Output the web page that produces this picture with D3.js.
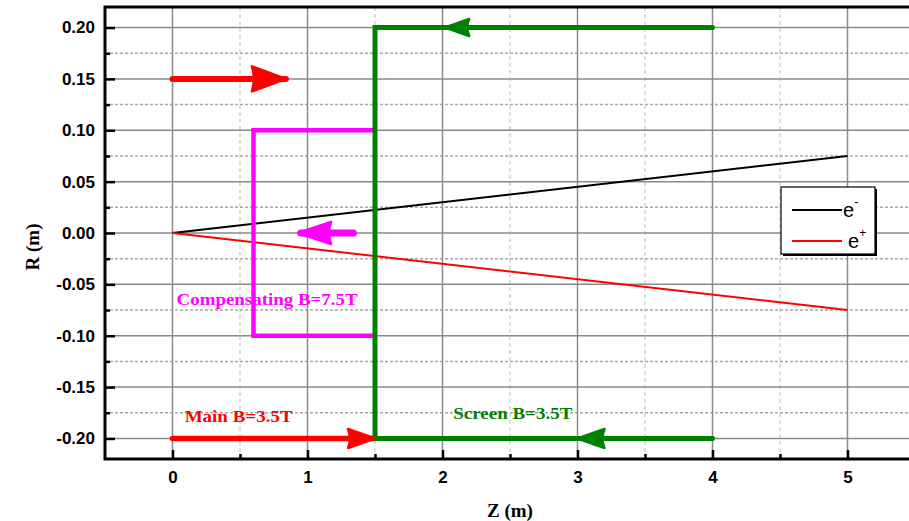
<!DOCTYPE html>
<html>
<head>
<meta charset="utf-8">
<script src="https://cdn.jsdelivr.net/npm/d3@7"></script>
<style>
  body { margin: 0; background: #fff; }
  svg { display: block; }
</style>
</head>
<body>
<div id="chart"></div>
<script>
// tick values
var zMajor = [0, 1, 2, 3, 4, 5];
var zMinor = [0.5, 1.5, 2.5, 3.5, 4.5];
var rMajor = [-0.20, -0.15, -0.10, -0.05, 0.00, 0.05, 0.10, 0.15, 0.20];
var rMinor = [-0.175, -0.125, -0.075, -0.025, 0.025, 0.075, 0.125, 0.175];

// trajectories
var electron = [[0, 0], [5, 0.075]];
var positron = [[0, 0], [5, -0.075]];

// field outlines
var screenField = [[4, 0.2], [1.5, 0.2], [1.5, -0.2], [4, -0.2]];
var compField = [[1.5, 0.1], [0.6, 0.1], [0.6, -0.1], [1.5, -0.1]];
var mainField = [[0, -0.2], [1.5, -0.2]];

// arrows: tail, tip
var arrowShafts = [
  { pts: [[0, 0.15], [0.84, 0.15]], color: "#ff0000", w: 6 },
  { pts: [[1.34, 0], [0.95, 0]], color: "#ff00ff", w: 7 }
];
var arrowHeads = [
  { z: 0.84, r: 0.15, dir: 1, color: "#ff0000", len: 34, half: 12.5 },
  { z: 1.5, r: -0.2, dir: 1, color: "#ff0000", len: 27, half: 9.5 },
  { z: 0.93, r: 0, dir: -1, color: "#ff00ff", len: 33, half: 11 },
  { z: 2.02, r: 0.2, dir: -1, color: "#008000", len: 24, half: 8.5 },
  { z: 3.0, r: -0.2, dir: -1, color: "#008000", len: 27, half: 9.5 }
];

var labels = [
  { text: "Compensating B=7.5T", z: 0.03, r: -0.064, color: "#ff00ff", len: 181 },
  { text: "Main B=3.5T", z: 0.09, r: -0.178, color: "#ff0000", len: 108 },
  { text: "Screen B=3.5T", z: 2.08, r: -0.175, color: "#008000", len: 119 }
];

var width = 909, height = 521;
var svg = d3.select("#chart").append("svg")
  .attr("width", width)
  .attr("height", height);

var x = d3.scaleLinear().domain([-0.5, 5.5]).range([105, 915]);
var y = d3.scaleLinear().domain([-0.22, 0.22]).range([459, 7]);

// grid
var grid = svg.append("g");
grid.selectAll(".vmin").data(zMinor).enter().append("line")
  .attr("x1", d => x(d)).attr("x2", d => x(d))
  .attr("y1", y(0.22)).attr("y2", y(-0.22))
  .attr("stroke", "#bdbdbd").attr("stroke-width", 1).attr("stroke-dasharray", "4,3");
grid.selectAll(".hmin").data(rMinor).enter().append("line")
  .attr("x1", x(-0.5)).attr("x2", width)
  .attr("y1", d => y(d)).attr("y2", d => y(d))
  .attr("stroke", "#a8a8a8").attr("stroke-width", 1.5).attr("stroke-dasharray", "3,2");
grid.selectAll(".vmaj").data(zMajor).enter().append("line")
  .attr("x1", d => x(d)).attr("x2", d => x(d))
  .attr("y1", y(0.22)).attr("y2", y(-0.22))
  .attr("stroke", "#8a8a8a").attr("stroke-width", 1.5);
grid.selectAll(".hmaj").data(rMajor).enter().append("line")
  .attr("x1", x(-0.5)).attr("x2", width)
  .attr("y1", d => y(d)).attr("y2", d => y(d))
  .attr("stroke", "#8a8a8a").attr("stroke-width", 1.5);

var line = d3.line().x(d => x(d[0])).y(d => y(d[1]));

// trajectories
svg.append("path").datum(electron).attr("d", line)
  .attr("fill", "none").attr("stroke", "#000").attr("stroke-width", 2);
svg.append("path").datum(positron).attr("d", line)
  .attr("fill", "none").attr("stroke", "#ff0000").attr("stroke-width", 2);

// fields
svg.append("path").datum(compField).attr("d", line)
  .attr("fill", "none").attr("stroke", "#ff00ff").attr("stroke-width", 4.5);
svg.append("path").datum(mainField).attr("d", line)
  .attr("fill", "none").attr("stroke", "#ff0000").attr("stroke-width", 5.5)
  .attr("stroke-linecap", "round");
svg.append("path").datum(screenField).attr("d", line)
  .attr("fill", "none").attr("stroke", "#008000").attr("stroke-width", 5)
  .attr("stroke-linecap", "round");

svg.selectAll(".shaft").data(arrowShafts).enter().append("path")
  .attr("d", d => line(d.pts))
  .attr("fill", "none").attr("stroke", d => d.color).attr("stroke-width", d => d.w)
  .attr("stroke-linecap", "round");

svg.selectAll(".head").data(arrowHeads).enter().append("path")
  .attr("d", function(d) {
    var tx = x(d.z), ty = y(d.r), bx = tx - d.dir * d.len;
    return "M" + tx + "," + ty + "L" + bx + "," + (ty - d.half) +
      "Q" + (bx + d.dir * 4) + "," + ty + " " + bx + "," + (ty + d.half) + "Z";
  })
  .attr("fill", d => d.color)
  .attr("stroke", d => d.color).attr("stroke-width", 2.5).attr("stroke-linejoin", "round");

// annotations
svg.selectAll(".lbl").data(labels).enter().append("text")
  .attr("x", d => x(d.z)).attr("y", d => y(d.r))
  .attr("dy", "0.35em")
  .attr("textLength", d => d.len).attr("lengthAdjust", "spacingAndGlyphs")
  .attr("fill", d => d.color)
  .style("font-family", "'Liberation Serif', 'Times New Roman', serif")
  .style("font-weight", "bold").style("font-size", "17px")
  .text(d => d.text);

// axes
var fmt = d => d.toFixed(2);
svg.append("g").attr("transform", "translate(" + x(-0.5) + ",0)")
  .call(d3.axisLeft(y).tickValues(rMajor).tickFormat(fmt).tickSize(-10).tickPadding(10));
svg.append("g").attr("transform", "translate(" + x(-0.5) + ",0)")
  .call(d3.axisLeft(y).tickValues(rMinor).tickFormat("").tickSize(-5));
svg.append("g").attr("transform", "translate(0," + y(-0.22) + ")")
  .call(d3.axisBottom(x).tickValues(zMajor).tickFormat(d3.format("d")).tickSize(-9).tickPadding(12));
svg.append("g").attr("transform", "translate(0," + y(-0.22) + ")")
  .call(d3.axisBottom(x).tickValues(zMinor).tickFormat("").tickSize(-5));

svg.selectAll(".domain").remove();
svg.selectAll(".tick line").attr("stroke", "#000").attr("stroke-width", 2.5);
svg.selectAll(".tick text")
  .style("font-family", "'Liberation Sans', Arial, sans-serif")
  .style("font-weight", "bold").style("font-size", "17px").attr("fill", "#000");

// frame
svg.append("rect")
  .attr("x", x(-0.5)).attr("y", y(0.22))
  .attr("width", x(5.5) - x(-0.5)).attr("height", y(-0.22) - y(0.22))
  .attr("fill", "none").attr("stroke", "#000").attr("stroke-width", 3);

// axis titles
svg.append("text")
  .attr("x", 510).attr("y", 517).attr("text-anchor", "middle")
  .style("font-family", "'Liberation Serif', 'Times New Roman', serif")
  .style("font-weight", "bold").style("font-size", "19px")
  .text("Z (m)");
svg.append("text")
  .attr("transform", "translate(39,247) rotate(-90)").attr("text-anchor", "middle")
  .style("font-family", "'Liberation Serif', 'Times New Roman', serif")
  .style("font-weight", "bold").style("font-size", "19px")
  .text("R (m)");

// legend
var legendItems = [
  { name: "e", sup: "-", color: "#000" },
  { name: "e", sup: "+", color: "#ff0000" }
];
var lg = svg.append("g").attr("transform", "translate(781,187)");
lg.append("rect").attr("x", 2).attr("y", 2).attr("width", 94).attr("height", 67).attr("fill", "#000");
lg.append("rect").attr("width", 94).attr("height", 67)
  .attr("fill", "#fff").attr("stroke", "#000").attr("stroke-width", 1.2);
var li = lg.selectAll(".li").data(legendItems).enter().append("g")
  .attr("transform", (d, i) => "translate(0," + (23 + i * 31) + ")");
li.append("line").attr("x1", 11).attr("x2", 61).attr("y1", 0).attr("y2", 0)
  .attr("stroke", d => d.color).attr("stroke-width", 2);
var lt = li.append("text")
  .attr("x", (d, i) => i === 0 ? 62 : 67).attr("y", 7)
  .style("font-family", "'Liberation Sans', Arial, sans-serif")
  .style("font-size", "20px").attr("fill", "#000");
lt.append("tspan").text(d => d.name);
lt.append("tspan").attr("dy", -11).style("font-size", "12px").text(d => d.sup);
</script>
</body>
</html>
